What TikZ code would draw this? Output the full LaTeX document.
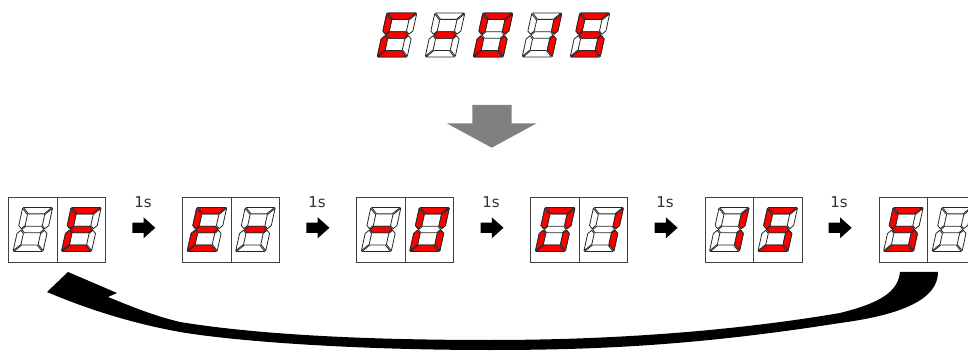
\documentclass[tikz,border=0pt]{standalone}
\usepackage{fontspec}
\setmainfont{DejaVu Sans}
\usetikzlibrary{positioning}

% segment outlines of one digit (unslanted, y pointing down)
\newcommand\segA{(-14.2,-22) -- (14.2,-22) -- (7.8,-15.6) -- (-7.8,-15.6) -- cycle}
\newcommand\segB{(15,-21.2) -- (15,-4) -- (11.8,-0.8) -- (8.6,-4) -- (8.6,-14.8) -- cycle}
\newcommand\segC{(15,21.2) -- (15,4) -- (11.8,0.8) -- (8.6,4) -- (8.6,14.8) -- cycle}
\newcommand\segD{(-14.2,22) -- (14.2,22) -- (7.8,15.6) -- (-7.8,15.6) -- cycle}
\newcommand\segE{(-15,21.2) -- (-15,4) -- (-11.8,0.8) -- (-8.6,4) -- (-8.6,14.8) -- cycle}
\newcommand\segF{(-15,-21.2) -- (-15,-4) -- (-11.8,-0.8) -- (-8.6,-4) -- (-8.6,-14.8) -- cycle}
\newcommand\segG{(-11,0) -- (-7.8,-3.2) -- (7.8,-3.2) -- (11,0) -- (7.8,3.2) -- (-7.8,3.2) -- cycle}
\newcommand\segN{}
\newcommand\seg[2]{\path[#2] \csname seg#1\endcsname;}

\tikzset{
  segoff/.style={fill=white, draw=black!85, line width=0.8pt, line join=round},
  segon/.style={fill=red, draw=black!85, line width=0.8pt, line join=round},
  pics/digit/.style={code={
    \begin{scope}[xslant=0.22]
      \foreach \s in {A,...,G} {\seg{\s}{segoff}}
      \foreach \s in {#1} {\seg{\s}{segon}}
    \end{scope}
  }},
  pics/steparrow/.style={code={
    \fill [black] (-11.3,-5.2) -- (0,-5.2) -- (0,-10.5) -- (11.7,0)
        -- (0,10.5) -- (0,5.2) -- (-11.3,5.2) -- cycle;
  }},
  dispbox/.style={draw=black!75, line width=0.9pt, minimum width=97pt,
    minimum height=65pt, inner sep=0pt},
  divider/.style={draw=black!75, line width=0.9pt},
  secs/.style={font=\fontsize{15}{15}\selectfont, text=black!80, inner sep=0pt},
}

\begin{document}
\begin{tikzpicture}[x=1pt,y=-1pt]
    \useasboundingbox (0,0) rectangle (968,352);
    \clip (0,0) rectangle (968,352);

    % the code shown
    \pic at (397,35) {digit={A,D,E,F,G}};
    \pic at (445,35) {digit={G}};
    \pic at (493,35) {digit={A,B,C,D,E,F}};
    \pic at (542,35) {digit={B,C}};
    \pic at (590,35) {digit={A,C,D,F,G}};

    % down arrow
    \fill [black!50] (472.3,105) -- (511.7,105) -- (511.7,123.3) -- (536.7,123.3)
        -- (491.7,147.7) -- (446.7,123.3) -- (472.3,123.3) -- cycle;

    % two digit display, step by step
    \node [dispbox] (b1) at (57.1,229.5) {};
    \node [dispbox] (b2) at (231.2,229.5) {};
    \node [dispbox] (b3) at (405.3,229.5) {};
    \node [dispbox] (b4) at (579.4,229.5) {};
    \node [dispbox] (b5) at (753.5,229.5) {};
    \node [dispbox] (b6) at (927.6,229.5) {};

    \foreach \b in {b1,b2,b3,b4,b5,b6}
        \draw [divider] (\b.north) -- (\b.south);

    \pic at ([xshift=-24.25pt]b1.center) {digit=N};
    \pic at ([xshift=24.25pt]b1.center) {digit={A,D,E,F,G}};
    \pic at ([xshift=-24.25pt]b2.center) {digit={A,D,E,F,G}};
    \pic at ([xshift=24.25pt]b2.center) {digit=G};
    \pic at ([xshift=-24.25pt]b3.center) {digit=G};
    \pic at ([xshift=24.25pt]b3.center) {digit={A,B,C,D,E,F}};
    \pic at ([xshift=-24.25pt]b4.center) {digit={A,B,C,D,E,F}};
    \pic at ([xshift=24.25pt]b4.center) {digit={B,C}};
    \pic at ([xshift=-24.25pt]b5.center) {digit={B,C}};
    \pic at ([xshift=24.25pt]b5.center) {digit={A,C,D,F,G}};
    \pic at ([xshift=-24.25pt]b6.center) {digit={A,C,D,F,G}};
    \pic at ([xshift=24.25pt]b6.center) {digit=N};

    \pic at (143.6,227.8) {steparrow};
    \pic at (317.7,227.8) {steparrow};
    \pic at (491.8,227.8) {steparrow};
    \pic at (665.9,227.8) {steparrow};
    \pic at (840,227.8) {steparrow};

    \node [secs] (t1) at (143,202.5) {1s};
    \node [secs] (t2) at (317,202.5) {1s};
    \node [secs] (t3) at (491,202.5) {1s};
    \node [secs] (t4) at (665,202.5) {1s};
    \node [secs] (t5) at (839,202.5) {1s};

    % back to the start
    \fill [black] (938,272) .. controls (938,300) and (900,315) .. (840,323)
        .. controls (700,345) and (600,350) .. (490,350)
        .. controls (360,350) and (240,342) .. (180,332)
        .. controls (125,322) and (80,306) .. (47,292)
        -- (68,272) -- (117,293) -- (108,297)
        .. controls (135,308) and (155,316) .. (180,322)
        .. controls (260,335) and (370,340) .. (490,340)
        .. controls (620,340) and (740,330) .. (840,313)
        .. controls (880,303) and (898,292) .. (900,272) -- cycle;
\end{tikzpicture}
\end{document}
